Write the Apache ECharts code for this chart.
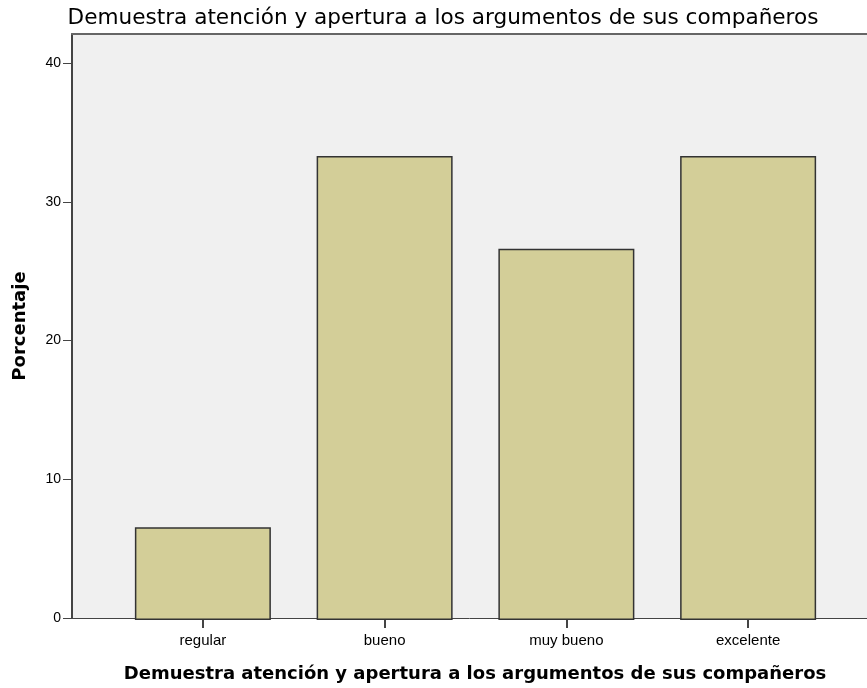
<!DOCTYPE html>
<html>
<head>
<meta charset="utf-8">
<script src="https://cdn.jsdelivr.net/npm/echarts@6/dist/echarts.min.js"></script>
<style>
  html, body { margin: 0; padding: 0; background: #fff; }
  #chart { width: 867px; height: 688px; }
</style>
</head>
<body>
<div id="chart"></div>
<script>
const titulo = 'Demuestra atención y apertura a los argumentos de sus compañeros';
const categorias = ['regular', 'bueno', 'muy bueno', 'excelente'];
const porcentajes = [6.67, 33.33, 26.67, 33.33];
const yTicks = [0, 10, 20, 30, 40];
const yMax = 42.1;

const chart = echarts.init(document.getElementById('chart'));

const axisColor = '#444';

const option = {
  animation: false,
  backgroundColor: '#ffffff',
  title: {
    text: titulo,
    left: 438,
    textAlign: 'center',
    top: 2,
    textStyle: {
      fontFamily: 'DejaVu Sans',
      fontSize: 21.6,
      fontWeight: 'normal',
      color: '#000'
    }
  },
  grid: [
    // fondo del area de trazado
    { left: 72, right: 0, top: 34, bottom: 68, show: true, backgroundColor: '#f0f0f0', borderWidth: 0 },
    // area de las barras
    { left: 112, right: 28, top: 34, bottom: 68 }
  ],
  xAxis: [
    {
      gridIndex: 0, type: 'value', position: 'bottom', min: 0, max: 1,
      axisLine: { show: true, lineStyle: { color: axisColor, width: 1 } },
      axisTick: { show: false }, axisLabel: { show: false }, splitLine: { show: false },
      name: titulo,
      nameLocation: 'middle',
      nameGap: 47,
      nameTextStyle: {
        fontFamily: 'DejaVu Sans', fontSize: 18, fontWeight: 'bold', color: '#000',
        padding: [0, 0, 0, 11]
      }
    },
    {
      gridIndex: 0, type: 'value', position: 'top', min: 0, max: 1,
      axisLine: { show: true, lineStyle: { color: '#666', width: 2 } },
      axisTick: { show: false }, axisLabel: { show: false }, splitLine: { show: false }
    },
    {
      gridIndex: 1, type: 'category', data: categorias, position: 'bottom',
      axisLine: { show: false },
      axisTick: { show: true, alignWithLabel: true, length: 8, lineStyle: { color: axisColor, width: 2 } },
      axisLabel: { fontFamily: 'Liberation Sans', fontSize: 15, color: '#000', margin: 13 }
    }
  ],
  yAxis: [
    {
      gridIndex: 0, type: 'value', min: 0, max: yMax, interval: 10,
      axisLine: { show: true, lineStyle: { color: axisColor, width: 2 } },
      axisTick: { show: true, length: 9, customValues: yTicks, lineStyle: { color: axisColor, width: 1 } },
      axisLabel: { customValues: yTicks, fontFamily: 'Liberation Sans', fontSize: 14, color: '#000', margin: 11 },
      splitLine: { show: false },
      name: 'Porcentaje',
      nameLocation: 'middle',
      nameGap: 43,
      nameTextStyle: { fontFamily: 'DejaVu Sans', fontSize: 18, fontWeight: 'bold', color: '#000' }
    },
    {
      gridIndex: 1, type: 'value', min: 0, max: yMax, show: false
    }
  ],
  series: [
    {
      type: 'bar',
      xAxisIndex: 2,
      yAxisIndex: 1,
      data: porcentajes,
      barWidth: 136,
      itemStyle: { color: '#d3ce98', borderColor: '#333', borderWidth: 1.5 }
    }
  ]
};

chart.setOption(option);
window.addEventListener('resize', () => chart.resize());
</script>
</body>
</html>
